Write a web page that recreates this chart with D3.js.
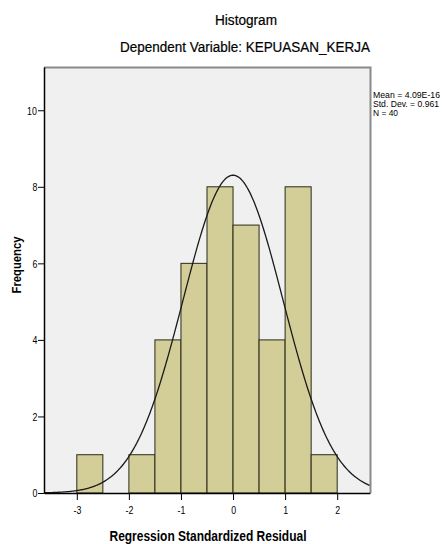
<!DOCTYPE html>
<html lang="en">
<head>
    <meta charset="UTF-8">
    <script src="https://d3js.org/d3.v7.min.js"></script>
    <title>Histogram</title>
    <style>
        body { margin: 0; background: #fff; }
        text { font-family: "Liberation Sans", Arial, sans-serif; fill: #000; }
    </style>
</head>
<body>
    <script>
        // bins of the standardized residual (width 0.5) and their counts
        var binStarts = [-3, -2, -1.5, -1, -0.5, 0, 0.5, 1, 1.5];
        var counts = [1, 1, 4, 6, 8, 7, 4, 8, 1];
        var binWidth = 0.5;
        var xTicks = [-3, -2, -1, 0, 1, 2];
        var yTicks = [0, 2, 4, 6, 8, 10];
        var stats = ["Mean = 4.09E-16", "Std. Dev. = 0.961", "N = 40"];
        var mean = 4.09e-16, sd = 0.961, n = 40;

        var W = 442, H = 544;
        var pL = 44, pR = 370, pT = 67, pB = 493;

        var svg = d3.select("body").append("svg").attr("width", W).attr("height", H);

        var x = d3.scaleLinear().domain([-3.63, 2.63]).range([pL, pR]);
        var y = d3.scaleLinear().domain([0, 11.13]).range([pB, pT]);

        // plot background
        svg.append("rect").attr("x", pL).attr("y", pT)
            .attr("width", pR - pL).attr("height", pB - pT)
            .style("fill", "#f0f0f0");

        // bars
        svg.selectAll("rect.bar").data(binStarts).enter().append("rect")
            .attr("class", "bar")
            .attr("x", function(d) { return x(d); })
            .attr("y", function(d, i) { return y(counts[i]); })
            .attr("width", function(d) { return x(d + binWidth) - x(d); })
            .attr("height", function(d, i) { return pB - y(counts[i]); })
            .style("fill", "#d3ce97")
            .style("stroke", "#2a2a1a")
            .style("stroke-width", 1);

        // normal curve
        var pts = d3.range(-3.63, 2.631, 0.02).map(function(v) {
            var dens = Math.exp(-0.5 * Math.pow((v - mean) / sd, 2)) / (sd * Math.sqrt(2 * Math.PI));
            return [v, n * binWidth * dens];
        });
        svg.append("path").datum(pts)
            .attr("d", d3.line().x(function(d) { return x(d[0]); }).y(function(d) { return y(d[1]); }))
            .style("fill", "none").style("stroke", "#1a1a1a").style("stroke-width", 1.3);

        // top and right frame (gray)
        svg.append("path")
            .attr("d", "M" + pL + "," + (pT + 0.5) + "H" + (pR + 0.5) + "V" + pB)
            .style("fill", "none").style("stroke", "#8a8a8a").style("stroke-width", 2);

        // axes
        var fmt = function(d) { return String(d); };
        var xAxis = svg.append("g").attr("transform", "translate(0," + pB + ")")
            .call(d3.axisBottom(x).tickValues(xTicks).tickSize(7).tickSizeOuter(0).tickFormat(fmt));
        var yAxis = svg.append("g").attr("transform", "translate(" + pL + ",0)")
            .call(d3.axisLeft(y).tickValues(yTicks).tickSize(6).tickSizeOuter(0).tickFormat(fmt));
        [xAxis, yAxis].forEach(function(a) {
            a.select(".domain").style("stroke", "#000").style("stroke-width", 1.5);
            a.selectAll(".tick line").style("stroke", "#000");
            a.selectAll(".tick text").style("font-size", "11px")
                .style("font-family", "'Liberation Sans', Arial, sans-serif")
                .attr("transform-origin", "center").style("transform-box", "fill-box")
                .style("transform", "scaleX(0.8)");
        });
        xAxis.selectAll(".tick text").attr("dy", "0").attr("y", 21);
        yAxis.selectAll(".tick text").attr("x", -6).attr("dy", "0.35em");

        // titles
        svg.append("text").attr("x", 246).attr("y", 25).attr("text-anchor", "middle")
            .style("font-size", "14px").attr("textLength", 62).attr("lengthAdjust", "spacingAndGlyphs")
            .style("stroke", "#000").style("stroke-width", 0.2)
            .text("Histogram");
        svg.append("text").attr("x", 245).attr("y", 52).attr("text-anchor", "middle")
            .style("font-size", "14px").attr("textLength", 250).attr("lengthAdjust", "spacingAndGlyphs")
            .style("stroke", "#000").style("stroke-width", 0.2)
            .text("Dependent Variable: KEPUASAN_KERJA");

        // stats box text
        var statW = [67, 66, 25];
        svg.selectAll("text.stat").data(stats).enter().append("text")
            .attr("class", "stat")
            .attr("x", 373).attr("y", function(d, i) { return 98 + i * 9; })
            .style("font-size", "9.5px")
            .attr("textLength", function(d, i) { return statW[i]; }).attr("lengthAdjust", "spacingAndGlyphs")
            .text(function(d) { return d; });

        // axis titles
        svg.append("text").attr("x", 208).attr("y", 541).attr("text-anchor", "middle")
            .style("font-size", "14px").style("font-weight", "bold")
            .attr("textLength", 197).attr("lengthAdjust", "spacingAndGlyphs")
            .text("Regression Standardized Residual");
        svg.append("text").attr("transform", "translate(21,265) rotate(-90)").attr("text-anchor", "middle")
            .style("font-size", "13px").style("font-weight", "bold")
            .attr("textLength", 57).attr("lengthAdjust", "spacingAndGlyphs")
            .text("Frequency");
    </script>
</body>
</html>
